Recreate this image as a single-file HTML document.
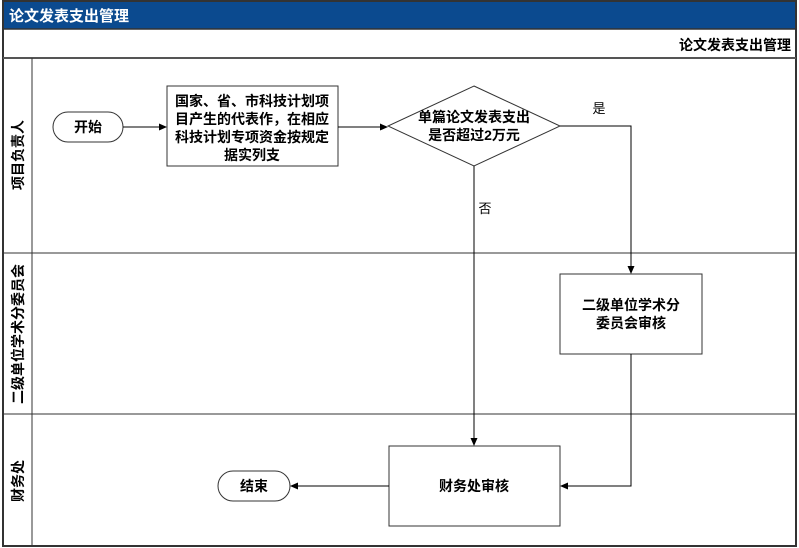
<!DOCTYPE html>
<html><head><meta charset="utf-8"><style>
html,body{margin:0;padding:0;background:#fff;}
svg{display:block;}
text{font-family:"Liberation Sans","Noto Sans CJK SC",sans-serif;font-weight:bold;fill:#000;}
</style></head><body>
<svg width="799" height="548" viewBox="0 0 799 548" xmlns="http://www.w3.org/2000/svg">
<defs><marker id="a" markerWidth="8" markerHeight="8" refX="7" refY="4" orient="auto" markerUnits="userSpaceOnUse"><path d="M0,0.5 L8,4 L0,7.5 Z" fill="#000"/></marker></defs>
<rect x="0" y="0" width="799" height="548" fill="#fff"/>
<rect x="3" y="1" width="793" height="28" fill="#0b4a8f"/>
<text x="9" y="21" font-size="15" fill="#fff" style="fill:#fff">论文发表支出管理</text>
<rect x="3" y="1" width="793" height="545" fill="none" stroke="#333" stroke-width="2"/>
<line x1="3" y1="29" x2="796" y2="29" stroke="#333" stroke-width="1.5"/>
<line x1="3" y1="58" x2="796" y2="58" stroke="#555" stroke-width="2"/>
<text x="791" y="50" font-size="14" text-anchor="end">论文发表支出管理</text>
<line x1="32" y1="58" x2="32" y2="546" stroke="#333" stroke-width="1"/>
<line x1="3" y1="253" x2="796" y2="253" stroke="#333" stroke-width="1"/>
<line x1="3" y1="414" x2="796" y2="414" stroke="#333" stroke-width="1"/>
<text transform="translate(23,155) rotate(-90)" font-size="14" text-anchor="middle">项目负责人</text>
<text transform="translate(23,334) rotate(-90)" font-size="14" text-anchor="middle">二级单位学术分委员会</text>
<text transform="translate(23,481) rotate(-90)" font-size="14" text-anchor="middle">财务处</text>
<g stroke="#333" stroke-width="1" fill="#fff">
<rect x="53" y="112" width="70" height="30" rx="15"/>
<rect x="167" y="86" width="171" height="80"/>
<polygon points="474,86 560,126 474,166 388,126"/>
<rect x="560" y="274" width="142" height="80"/>
<rect x="389" y="446" width="171" height="80"/>
<rect x="218" y="471" width="72" height="30" rx="15"/>
</g>
<g stroke="#000" stroke-width="1" fill="none">
<line x1="123" y1="127" x2="166" y2="127" marker-end="url(#a)"/>
<line x1="338" y1="127" x2="387" y2="127" marker-end="url(#a)"/>
<polyline points="560,126 631,126 631,273" marker-end="url(#a)"/>
<line x1="474" y1="166" x2="474" y2="445" marker-end="url(#a)"/>
<polyline points="631,354 631,486 561,486" marker-end="url(#a)"/>
<line x1="389" y1="486" x2="291" y2="486" marker-end="url(#a)"/>
</g>
<text x="88" y="132" font-size="14" text-anchor="middle">开始</text>
<g font-size="14" text-anchor="middle">
<text x="252" y="106">国家、省、市科技计划项</text>
<text x="252" y="124">目产生的代表作，在相应</text>
<text x="252" y="142">科技计划专项资金按规定</text>
<text x="252" y="160">据实列支</text>
<text x="474" y="122">单篇论文发表支出</text>
<text x="474" y="140">是否超过2万元</text>
<text x="631" y="310">二级单位学术分</text>
<text x="631" y="328">委员会审核</text>
<text x="474" y="491">财务处审核</text>
<text x="254" y="491">结束</text>
</g>
<text x="599" y="113" font-size="13" font-weight="normal" text-anchor="middle" style="font-weight:normal">是</text>
<text x="485" y="213" font-size="13" text-anchor="middle" style="font-weight:normal">否</text>
</svg>
</body></html>
